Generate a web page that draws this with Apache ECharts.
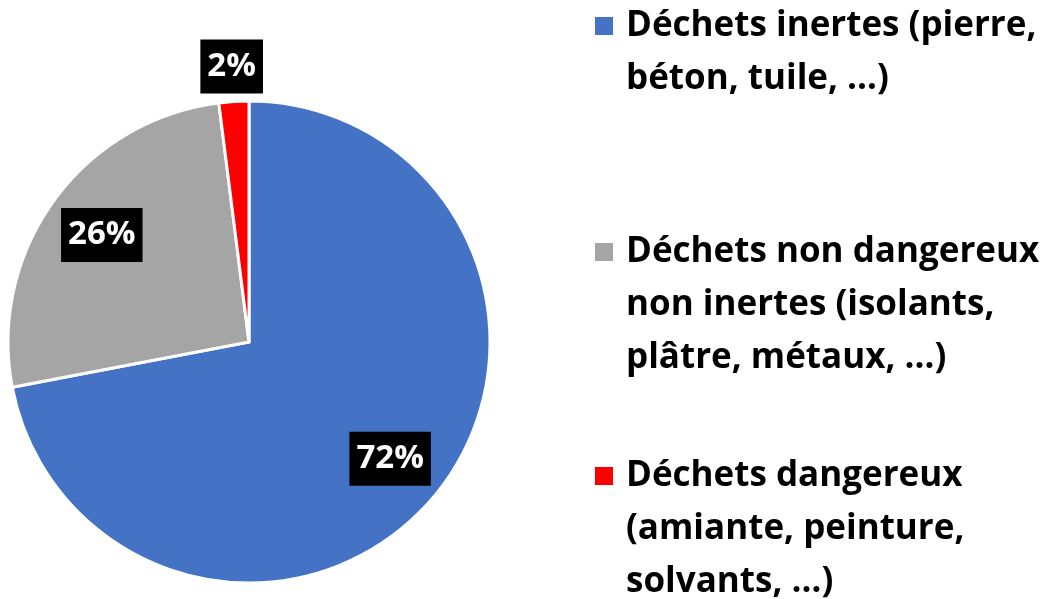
<!DOCTYPE html>
<html><head><meta charset="utf-8">
<script src="https://cdn.jsdelivr.net/npm/echarts@6/dist/echarts.min.js"></script>
<style>html,body{margin:0;padding:0;background:#fff}#c{width:1050px;height:599px}</style>
</head><body><div id="c"></div>
<script>
const categories = [
  "Déchets inertes (pierre,\nbéton, tuile, …)",
  "Déchets non dangereux\nnon inertes (isolants,\nplâtre, métaux, …)",
  "Déchets dangereux\n(amiante, peinture,\nsolvants, …)"
];
const values = [72, 26, 2];
const colors = ["#4472C4", "#A5A5A5", "#FF0000"];
const labelRadiusFactor = [0.76, 0.755, 1.145];
const legendIconTops = [16, 242, 466];

const cx = 249, cy = 342, R = 241;
const LH = 53;
const total = values.reduce((a, b) => a + b, 0);
const midAngles = [];
let acc = 0;
values.forEach(v => { midAngles.push((acc + v / 2) / total * 2 * Math.PI); acc += v; });

const FONT = "Open Sans";
const FS = 35;
const chart = echarts.init(document.getElementById('c'), null, {renderer: 'canvas'});
const legends = categories.map((name, i) => {
  const lines = name.split('\n');
  const n = lines.length;
  const m = 2 * n - 1;
  return {
    data: [name],
    orient: 'vertical',
    left: 593,
    top: legendIconTops[i] - (m * LH / 2 - 10),
    icon: 'rect',
    itemWidth: 20,
    itemHeight: 20,
    itemGap: 0,
    padding: 0,
    selectedMode: false,
    formatter: function (nm) {
      const ls = nm.split('\n');
      return '\n'.repeat(ls.length - 1) + ls.map(l => '{s|}' + l).join('\n');
    },
    textStyle: {
      fontFamily: FONT, fontWeight: 'bold', fontSize: FS, color: '#000',
      lineHeight: LH,
      rich: { s: { width: 7, lineHeight: LH } }
    }
  };
});

chart.setOption({
  animation: false,
  color: colors,
  legend: legends,
  series: [{
    type: 'pie',
    center: [cx, cy],
    radius: R,
    startAngle: 90,
    clockwise: true,
    avoidLabelOverlap: false,
    itemStyle: { borderColor: '#fff', borderWidth: 3 },
    label: {
      show: true,
      position: 'inside',
      formatter: '{d}%',
      fontFamily: FONT, fontWeight: 'bold', fontSize: 33, color: '#fff',
      backgroundColor: '#000',
      padding: [6, 7, 4, 7],
      lineHeight: 44
    },
    labelLine: { show: false },
    labelLayout: function (p) {
      const i = p.dataIndex;
      const a = midAngles[i];
      const r = R * labelRadiusFactor[i];
      return { x: cx + r * Math.sin(a), y: cy - r * Math.cos(a), align: 'center', verticalAlign: 'middle' };
    },
    data: categories.map((n, i) => ({ name: n, value: values[i] }))
  }]
});
</script></body></html>
